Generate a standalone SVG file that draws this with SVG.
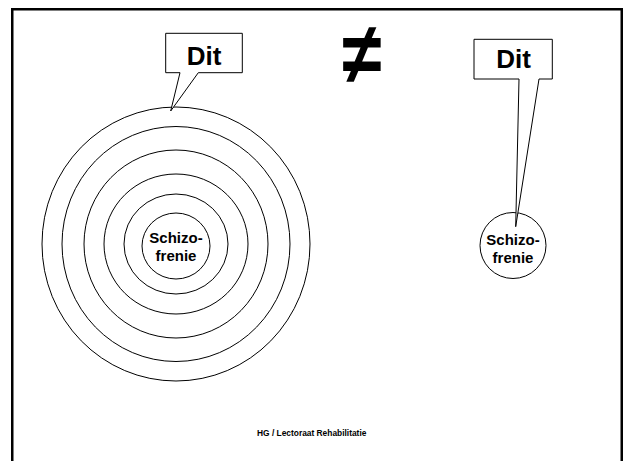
<svg xmlns="http://www.w3.org/2000/svg" width="624" height="461" viewBox="0 0 624 461">
<style>
.ring{fill:none;stroke:#000;stroke-width:1}
.callout{fill:#fff;stroke:#000;stroke-width:1}
.lbl{font-family:"Liberation Sans",Arial,sans-serif;font-weight:bold;fill:#000;text-anchor:middle}
</style>
<rect width="624" height="461" fill="#fff"/>
<rect x="12.25" y="9.25" width="609.5" height="460" fill="none" stroke="#000" stroke-width="2.5"/>
<g id="rings">
<ellipse class="ring" cx="176" cy="244" rx="134" ry="137"/>
<ellipse class="ring" cx="176" cy="244" rx="114" ry="117.5"/>
<ellipse class="ring" cx="176" cy="244" rx="92" ry="94"/>
<ellipse class="ring" cx="176" cy="244" rx="72" ry="70"/>
<ellipse class="ring" cx="176" cy="244" rx="52" ry="50"/>
</g>
<g id="schizo-left">
<ellipse class="ring" cx="176" cy="246" rx="34" ry="33"/>
<text class="lbl" x="176" y="243" font-size="15">Schizo-</text>
<text class="lbl" x="176" y="261" font-size="15">frenie</text>
</g>
<g id="schizo-right">
<circle class="ring" cx="513" cy="245.5" r="33"/>
<text class="lbl" x="513" y="245" font-size="15">Schizo-</text>
<text class="lbl" x="513" y="263" font-size="15">frenie</text>
</g>
<g id="connectors">
<path id="dit-left" class="callout" d="M165.7,33.3 H242.3 V72.7 H198.3 L170.7,111 L180,72.7 H165.7 Z"/>
<path id="dit-right" class="callout" d="M474,39.3 H552.3 V79 H539 L515.7,226.7 L519,79 H474 Z"/>
</g>
<g id="dit-left-label"><text class="lbl" x="204" y="65" font-size="26">Dit</text></g>
<g id="dit-right-label"><text class="lbl" x="513.5" y="67.5" font-size="26">Dit</text></g>
<g id="neq" transform="translate(362,82.5) scale(1,1.2)"><text class="lbl" x="0" y="0" font-size="72">≠</text></g>
<text class="lbl" x="311.7" y="435.7" font-size="8.4">HG / Lectoraat Rehabilitatie</text>
</svg>
